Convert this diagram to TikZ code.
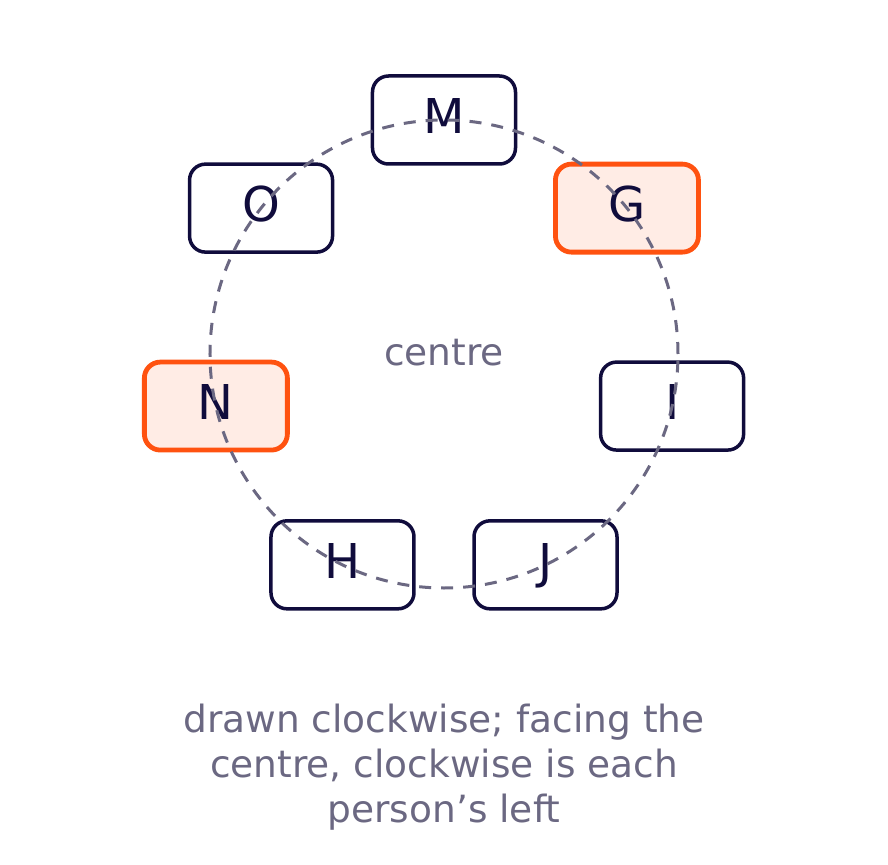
\documentclass[tikz,border=0pt]{standalone}
\usepackage{fontspec}
\setmainfont{DejaVu Sans}
\usepackage{tikz}
\usepackage{xcolor}
\usetikzlibrary{positioning}

\definecolor{ink}{HTML}{100C3C}
\definecolor{hot}{HTML}{FF5210}
\definecolor{hotfill}{HTML}{FFECE5}
\definecolor{mute}{HTML}{6B6882}

\begin{document}
\begin{tikzpicture}[x=1pt, y=1pt,
    person/.style={draw=ink, line width=3.5pt, fill=white, rounded corners=16pt,
        minimum width=143pt, minimum height=88pt, inner sep=0pt, text=ink,
        font=\fontsize{48}{58}\selectfont, text height=35pt, text depth=8pt},
    picked/.style={person, draw=hot, fill=hotfill, line width=4.8pt},
    ring/.style={draw=mute, line width=3pt, dash pattern=on 12pt off 10pt},
    note/.style={text=mute, font=\fontsize{37.5}{45}\selectfont}]

    \useasboundingbox (-444,-510) rectangle (444,354);

    \node[person] (m) at (90:234) {M};
    \node[picked] (g) at (38.57:234) {G};
    \node[person] (i) at (-12.86:234) {I};
    \node[person] (j) at (-64.29:234) {J};
    \node[person] (h) at (-115.71:234) {H};
    \node[picked] (n) at (-167.14:234) {N};
    \node[person] (o) at (141.43:234) {O};

    \draw[ring] (0,0) circle (234);

    \node[note, anchor=base] (mid) at (0,-12) {centre};
    \node[note, align=center] (caption) at (0,-413.5)
        {drawn clockwise; facing the\\centre, clockwise is each\\person’s left};

\end{tikzpicture}
\end{document}
